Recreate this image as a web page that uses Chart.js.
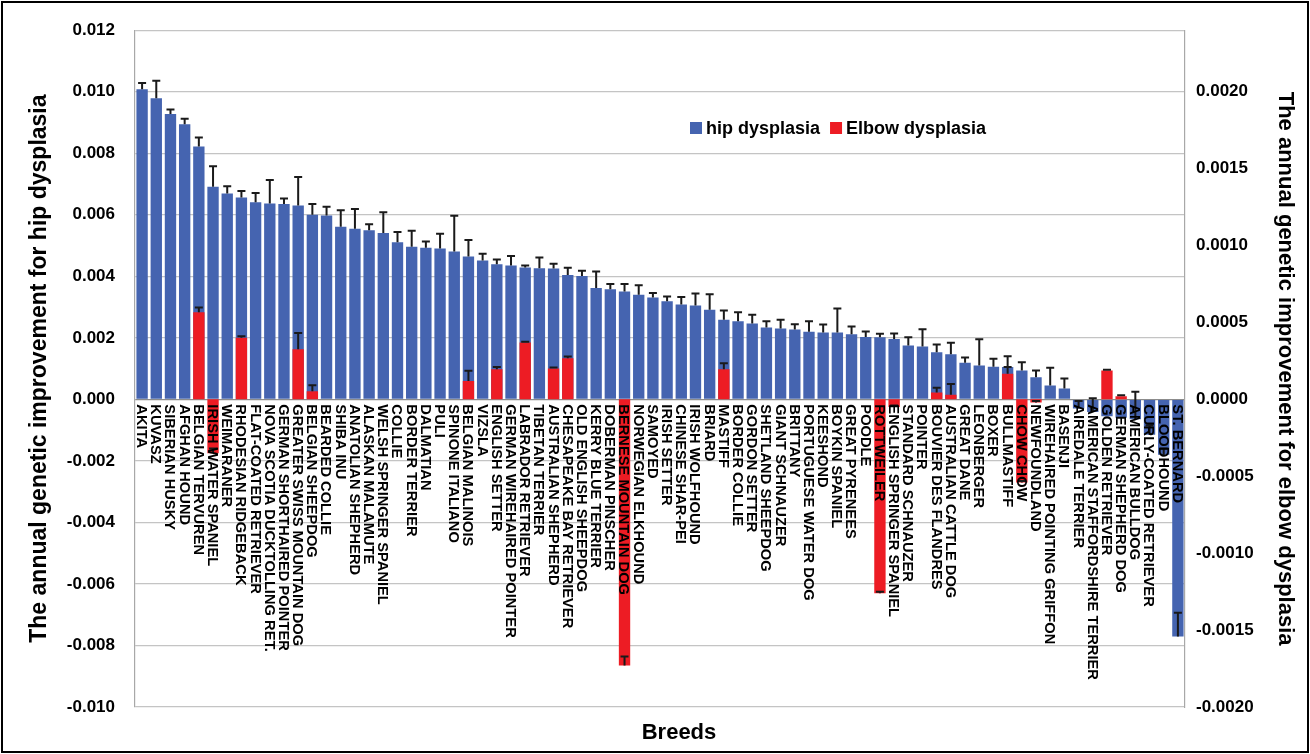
<!DOCTYPE html>
<html>
<head>
<meta charset="utf-8">
<script src="https://cdn.jsdelivr.net/npm/chart.js@4.4.0/dist/chart.umd.min.js"></script>
<style>
  html, body { margin: 0; padding: 0; background: #fff; }
  #wrap { width: 1310px; height: 754px; position: relative; }
</style>
</head>
<body>
<div id="wrap"><canvas id="chart"></canvas></div>
<script>
// 犬種（左から）
const breeds = [
    "AKITA", "KUVASZ", "SIBERIAN HUSKY", "AFGHAN HOUND", "BELGIAN TERVUREN",
    "IRISH WATER SPANIEL", "WEIMARANER", "RHODESIAN RIDGEBACK", "FLAT-COATED RETRIEVER",
    "NOVA SCOTIA DUCKTOLLING RET.", "GERMAN SHORTHAIRED POINTER", "GREATER SWISS MOUNTAIN DOG",
    "BELGIAN SHEEPDOG", "BEARDED COLLIE", "SHIBA INU", "ANATOLIAN SHEPHERD", "ALASKAN MALAMUTE",
    "WELSH SPRINGER SPANIEL", "COLLIE", "BORDER TERRIER", "DALMATIAN", "PULI", "SPINONE ITALIANO",
    "BELGIAN MALINOIS", "VIZSLA", "ENGLISH SETTER", "GERMAN WIREHAIRED POINTER", "LABRADOR RETRIEVER",
    "TIBETAN TERRIER", "AUSTRALIAN SHEPHERD", "CHESAPEAKE BAY RETRIEVER", "OLD ENGLISH SHEEPDOG",
    "KERRY BLUE TERRIER", "DOBERMAN PINSCHER", "BERNESE MOUNTAIN DOG", "NORWEGIAN ELKHOUND",
    "SAMOYED", "IRISH SETTER", "CHINESE SHAR-PEI", "IRISH WOLFHOUND", "BRIARD", "MASTIFF",
    "BORDER COLLIE", "GORDON SETTER", "SHETLAND SHEEPDOG", "GIANT SCHNAUZER", "BRITTANY",
    "PORTUGUESE WATER DOG", "KEESHOND", "BOYKIN SPANIEL", "GREAT PYRENEES", "POODLE", "ROTTWEILER",
    "ENGLISH SPRINGER SPANIEL", "STANDARD SCHNAUZER", "POINTER", "BOUVIER DES FLANDRES",
    "AUSTRALIAN CATTLE DOG", "GREAT DANE", "LEONBERGER", "BOXER", "BULLMASTIFF", "CHOW CHOW",
    "NEWFOUNDLAND", "WIREHAIRED POINTING GRIFFON", "BASENJI", "AIREDALE TERRIER",
    "AMERICAN STAFFORDSHIRE TERRIER", "GOLDEN RETRIEVER", "GERMAN SHEPHERD DOG", "AMERICAN BULLDOG",
    "CURLY-COATED RETRIEVER", "BLOODHOUND", "ST. BERNARD"
];

// 股関節（左軸）
const hipValues = [
    0.01008, 0.00979, 0.00928, 0.00894, 0.00822, 0.00691, 0.00669, 0.00656, 0.00641, 0.00637,
    0.00635, 0.00630, 0.00600, 0.00598, 0.00561, 0.00555, 0.00550, 0.00541, 0.00511, 0.00496,
    0.00493, 0.00490, 0.00481, 0.00464, 0.00451, 0.00439, 0.00435, 0.00429, 0.00426, 0.00425,
    0.00404, 0.00401, 0.00362, 0.00358, 0.00351, 0.00340, 0.00331, 0.00319, 0.00308, 0.00305,
    0.00291, 0.00259, 0.00254, 0.00247, 0.00234, 0.00230, 0.00227, 0.00220, 0.00217, 0.00217,
    0.00212, 0.00203, 0.00202, 0.00196, 0.00175, 0.00172, 0.00153, 0.00147, 0.00119, 0.00110,
    0.00106, 0.00105, 0.00094, 0.00072, 0.00045, 0.00035, -0.00030, -0.00041, -0.00055, -0.00060,
    -0.00065, -0.00115, -0.00180, -0.00771
];
const hipErrors = [
    0.00020, 0.00057, 0.00014, 0.00018, 0.00029, 0.00067, 0.00024, 0.00021, 0.00030, 0.00076,
    0.00018, 0.00093, 0.00035, 0.00028, 0.00054, 0.00064, 0.00019, 0.00067, 0.00033, 0.00052,
    0.00020, 0.00048, 0.00116, 0.00054, 0.00022, 0.00016, 0.00031, 0.00006, 0.00035, 0.00016,
    0.00024, 0.00017, 0.00054, 0.00017, 0.00024, 0.00031, 0.00015, 0.00015, 0.00025, 0.00039,
    0.00051, 0.00030, 0.00029, 0.00028, 0.00020, 0.00029, 0.00017, 0.00034, 0.00026, 0.00078,
    0.00025, 0.00018, 0.00011, 0.00018, 0.00027, 0.00056, 0.00025, 0.00037, 0.00017, 0.00085,
    0.00026, 0.00035, 0.00027, 0.00022, 0.00058, 0.00033, 0.00025, 0.00045, 0.00000, 0.00000,
    0.00090, 0.00030, 0.00020, 0.00077
];

// 肘関節（右軸）null = データなし
const elbowValues = [
    null, null, null, null, 0.000566, -0.00035, null, 0.00040, null, null,
    null, 0.000326, 0.000052, null, null, null, null, null, null, null,
    null, null, null, 0.000119, null, 0.000195, null, 0.00037, null, 0.00020,
    0.000268, null, null, null, -0.00173, null, null, null, null, null,
    null, 0.000195, null, null, null, null, null, null, null, null,
    null, null, -0.00126, -0.00005, null, null, 0.000045, 0.00003, null, null,
    null, 0.000167, -0.00054, -0.00002, null, null, null, null, 0.000188, 0.000021,
    null, null, null, null
];
const elbowErrors = [
    null, null, null, null, 0.000032, 0.00003, null, 0.00001, null, null,
    null, 0.000106, 0.00004, null, null, null, null, null, null, null,
    null, null, null, 0.000067, null, 0.000015, null, 0.000004, null, 0.000007,
    0.000011, null, null, null, 0.000058, null, null, null, null, null,
    null, 0.00004, null, null, null, null, null, null, null, null,
    null, null, 0.00001, 0.00001, null, null, 0.00003, 0.00007, null, null,
    null, 0.000044, 0.00001, 0.00001, null, null, null, null, 0.000005, 0.000005,
    null, null, null, null
];

const hipTicks = [-0.010, -0.008, -0.006, -0.004, -0.002, 0, 0.002, 0.004, 0.006, 0.008, 0.010, 0.012];
const elbowTicks = [-0.0020, -0.0015, -0.0010, -0.0005, 0, 0.0005, 0.0010, 0.0015, 0.0020];

const BLUE = 'rgb(69,100,176)';
const RED = 'rgb(237,28,36)';
const FONT = '"Liberation Sans", Arial, sans-serif';

Chart.defaults.font.family = FONT;
Chart.defaults.color = '#000';

// エラーバー
const errorBarPlugin = {
    id: 'errorBars',
    afterDatasetsDraw(chart) {
        const ctx = chart.ctx;
        ctx.save();
        ctx.strokeStyle = '#1a1a1a';
        ctx.lineWidth = 2;
        chart.data.datasets.forEach((ds, i) => {
            const meta = chart.getDatasetMeta(i);
            const scale = chart.scales[ds.yAxisID];
            ds.errors.forEach((e, j) => {
                const v = ds.data[j];
                if (v === null || e === null || e === 0) return;
                const x = meta.data[j].x;
                const y0 = scale.getPixelForValue(v);
                const y1 = scale.getPixelForValue(v + e);
                ctx.beginPath();
                ctx.moveTo(x, y0);
                ctx.lineTo(x, y1);
                ctx.moveTo(x - 4, y1);
                ctx.lineTo(x + 4, y1);
                ctx.stroke();
            });
        });
        ctx.restore();
    }
};

// 犬種ラベル（ゼロ線から下向き）
const breedLabelPlugin = {
    id: 'breedLabels',
    afterDatasetsDraw(chart) {
        const ctx = chart.ctx;
        const xs = chart.scales.x;
        const y0 = chart.scales.y.getPixelForValue(0) + 5;
        ctx.save();
        ctx.font = 'bold 14.7px ' + FONT;
        ctx.fillStyle = '#000';
        ctx.textAlign = 'left';
        ctx.textBaseline = 'middle';
        breeds.forEach((b, j) => {
            ctx.save();
            ctx.translate(xs.getPixelForValue(j), y0);
            ctx.rotate(Math.PI / 2);
            ctx.fillText(b, 0, 1);
            ctx.restore();
        });
        ctx.restore();
    }
};

// 凡例、x軸タイトル、外枠
const extrasPlugin = {
    id: 'extras',
    afterDraw(chart) {
        const ctx = chart.ctx;
        ctx.save();
        ctx.font = 'bold 18px ' + FONT;
        ctx.textBaseline = 'middle';
        ctx.textAlign = 'left';
        let x = 690;
        const y = 128;
        [['hip dysplasia', BLUE], ['Elbow dysplasia', RED]].forEach(([t, c]) => {
            ctx.fillStyle = c;
            ctx.fillRect(x, y - 6, 12, 12);
            ctx.fillStyle = '#000';
            ctx.fillText(t, x + 16, y + 1);
            x += 16 + ctx.measureText(t).width + 10;
        });

        ctx.font = 'bold 22px ' + FONT;
        ctx.textAlign = 'center';
        ctx.fillText('Breeds', 679, 733);

        ctx.strokeStyle = '#000';
        ctx.lineWidth = 2;
        ctx.strokeRect(2, 2, chart.width - 4, chart.height - 4);
        ctx.restore();
    }
};

const chart = new Chart(document.getElementById('chart'), {
    type: 'bar',
    data: {
        labels: breeds,
        datasets: [
            {
                label: 'hip dysplasia',
                data: hipValues,
                errors: hipErrors,
                yAxisID: 'y',
                backgroundColor: BLUE,
                grouped: false,
                order: 1,
                categoryPercentage: 1,
                barPercentage: 0.8
            },
            {
                label: 'Elbow dysplasia',
                data: elbowValues,
                errors: elbowErrors,
                yAxisID: 'y2',
                backgroundColor: RED,
                grouped: false,
                order: 0,
                categoryPercentage: 1,
                barPercentage: 0.8
            }
        ]
    },
    options: {
        responsive: true,
        maintainAspectRatio: false,
        animation: false,
        layout: { padding: { top: 27, left: 0, right: 0, bottom: 0 } },
        plugins: {
            legend: { display: false },
            tooltip: { enabled: false }
        },
        scales: {
            x: {
                ticks: { display: false },
                grid: { display: false },
                border: { display: false },
                afterFit(s) { s.height = 47; }
            },
            y: {
                position: 'left',
                min: -0.010,
                max: 0.012,
                afterBuildTicks(s) { s.ticks = hipTicks.map(v => ({ value: v })); },
                ticks: {
                    font: { size: 17, weight: 'bold' },
                    padding: 20,
                    callback: v => v.toFixed(3)
                },
                grid: {
                    drawTicks: false,
                    color: ctx => ctx.tick && ctx.tick.value === 0 ? '#8c8c8c' : '#c4c4c4',
                    lineWidth: 1.2
                },
                border: { color: '#a8a8a8', width: 1.2 },
                title: {
                    display: true,
                    text: 'The annual genetic improvement for hip dysplasia',
                    font: { size: 23, weight: 'bold' },
                    padding: { top: 26, bottom: 0 }
                },
                afterFit(s) { s.width = 135; }
            },
            y2: {
                position: 'right',
                min: -0.0020,
                max: 0.0024,
                afterBuildTicks(s) { s.ticks = elbowTicks.map(v => ({ value: v })); },
                ticks: {
                    font: { size: 17, weight: 'bold' },
                    padding: 11,
                    callback: v => v.toFixed(4)
                },
                grid: { display: false, drawTicks: false },
                border: { color: '#a8a8a8', width: 1.2 },
                title: {
                    display: true,
                    text: 'The annual genetic improvement for elbow dysplasia',
                    font: { size: 22, weight: 'bold' },
                    padding: { top: 12, bottom: 0 }
                },
                afterFit(s) { s.width = 125; }
            }
        }
    },
    plugins: [errorBarPlugin, breedLabelPlugin, extrasPlugin]
});
</script>
</body>
</html>
